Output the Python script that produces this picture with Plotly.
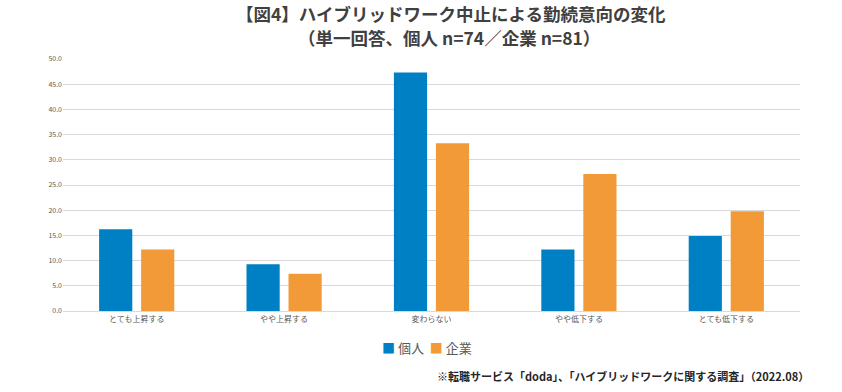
import plotly.graph_objects as go

categories = ["とても上昇する", "やや上昇する", "変わらない", "やや低下する", "とても低下する"]
kojin = [16.2, 9.3, 47.3, 12.2, 14.9]
kigyo = [12.2, 7.4, 33.3, 27.2, 19.8]
series_names = ["個人", "企業"]
y_ticks = [0, 5, 10, 15, 20, 25, 30, 35, 40, 45, 50]

FONT = "Noto Sans CJK JP"
BLUE = "#0080C4"
ORANGE = "#F29A38"

fig = go.Figure()
fig.add_trace(go.Bar(x=categories, y=kojin, name=series_names[0], marker=dict(color=BLUE, line=dict(width=0))))
fig.add_trace(go.Bar(x=categories, y=kigyo, name=series_names[1], marker=dict(color=ORANGE, line=dict(width=0))))

fig.update_layout(
    width=842, height=392,
    margin=dict(l=63, r=42, t=59, b=81, autoexpand=False),
    paper_bgcolor="white", plot_bgcolor="white",
    barmode="group", bargap=0.43, bargroupgap=0.21,
    font=dict(family=FONT, color="#595959"),
    showlegend=False,
)
fig.update_xaxes(showgrid=False, showline=True, linecolor="#d9d9d9", linewidth=1,
                 tickfont=dict(size=8, color="#595959"), ticks="", automargin=False)
fig.update_yaxes(range=[0, 50], tickvals=y_ticks, tickformat=".1f", showgrid=True,
                 gridcolor="#d9d9d9", gridwidth=1, zeroline=False, showline=False,
                 tickfont=dict(size=7, color="#595959"), ticks="", ticklen=0, automargin=False)

# title lines
fig.add_annotation(text="【図4】ハイブリッドワーク中止による勤続意向の変化",
                   xref="paper", yref="paper", x=(451 - 63) / 737, y=(311 - 14) / 252,
                   xanchor="center", yanchor="middle", showarrow=False,
                   font=dict(family=FONT, size=17.5, color="#404040", weight="bold"))
fig.add_annotation(text="（単一回答、個人 n=74／企業 n=81）",
                   xref="paper", yref="paper", x=(449 - 63) / 737, y=(311 - 37) / 252,
                   xanchor="center", yanchor="middle", showarrow=False,
                   font=dict(family=FONT, size=17.5, color="#404040", weight="bold"))

# legend
legend_text = (f"<span style='color:{BLUE}'>■</span> {series_names[0]}  "
               f"<span style='color:{ORANGE}'>■</span> {series_names[1]}")
fig.add_annotation(text=legend_text, xref="paper", yref="paper",
                   x=(427 - 63) / 737, y=(311 - 347) / 252, xanchor="center", yanchor="middle",
                   showarrow=False, font=dict(family=FONT, size=13, color="#595959"))

fig.add_annotation(
    text="※転職サービス「doda」、「ハイブリッドワークに関する調査」（2022.08）",
    xref="paper", yref="paper", x=(811 - 63) / 737, y=(311 - 376) / 252, xanchor="right", yanchor="middle",
    showarrow=False, font=dict(family=FONT, size=11, color="#262626", weight="bold"),
)

fig.write_html("out.html", config={"displayModeBar": False},
               post_script="document.body.style.margin='0';")
